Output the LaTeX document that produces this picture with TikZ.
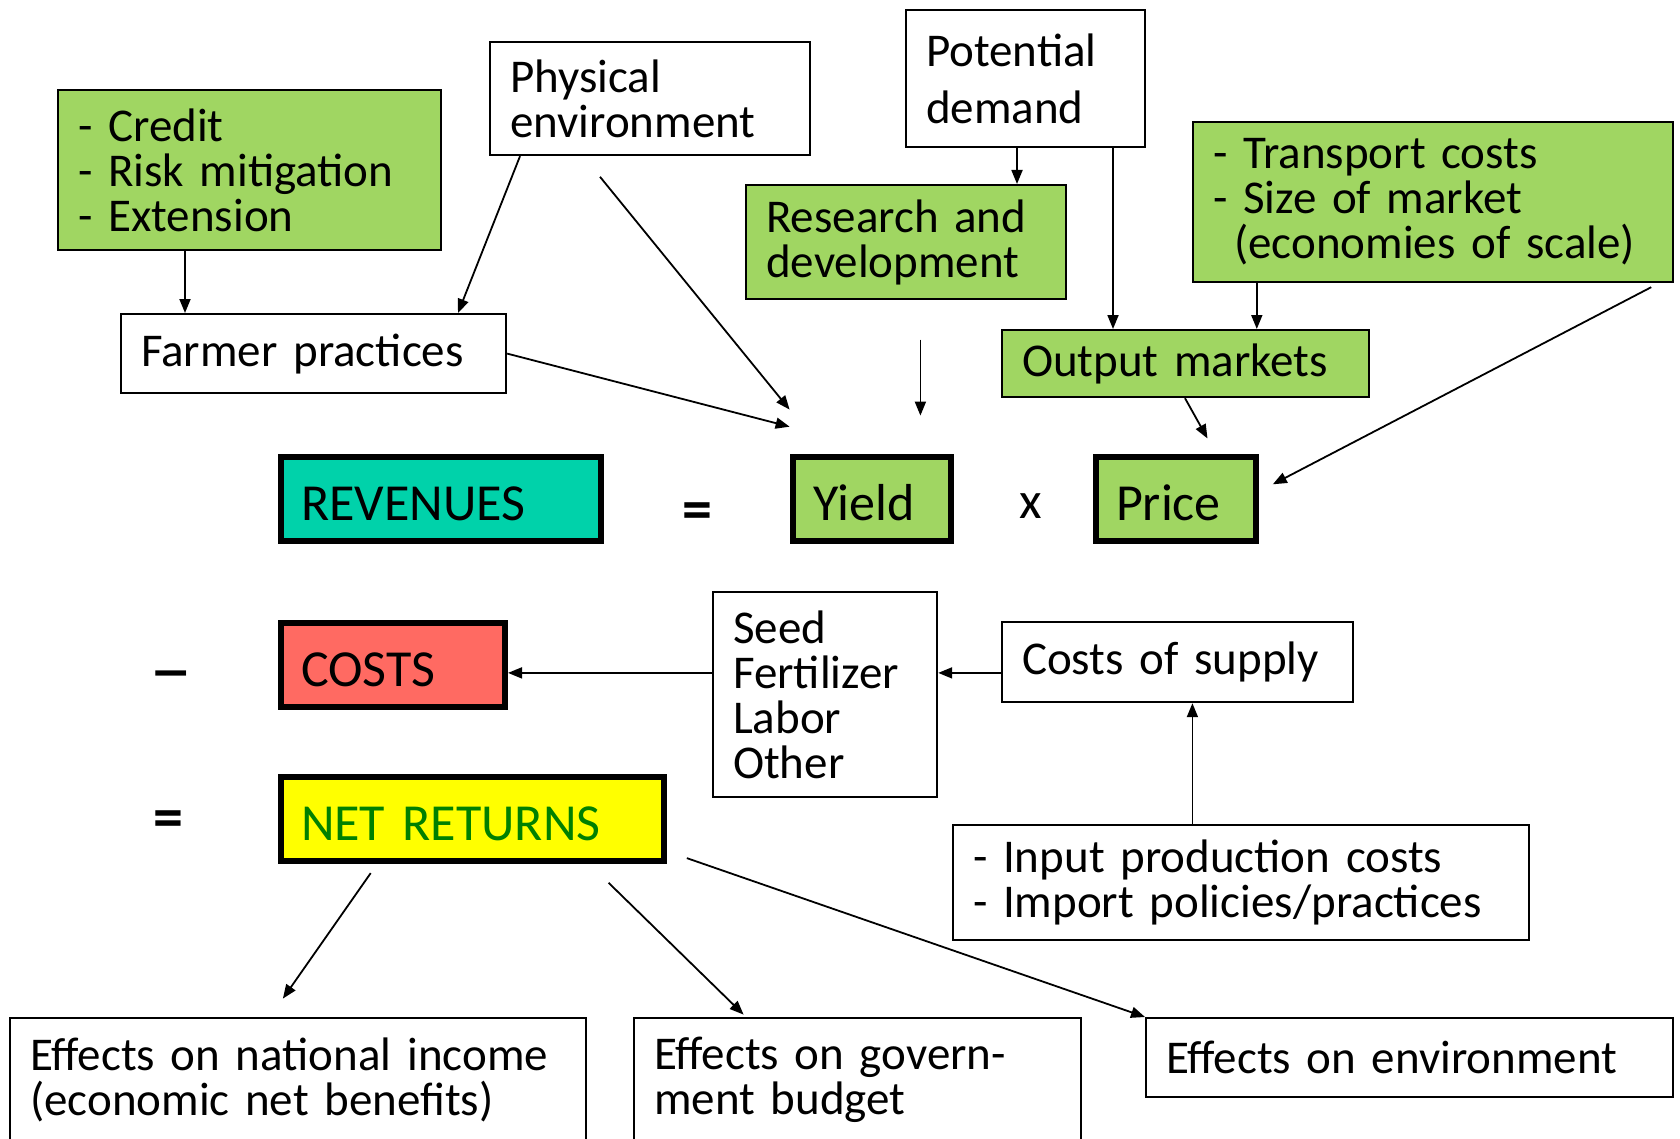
\documentclass[tikz,border=0pt]{standalone}
\usepackage{fontspec}
\setmainfont{Carlito}
\usepackage{tikz}
\usetikzlibrary{arrows.meta}
\usetikzlibrary{calc}
\definecolor{leaf}{HTML}{A0D662}
\definecolor{revcol}{HTML}{00D2AA}
\definecolor{costcol}{HTML}{FF6A62}
\definecolor{netcol}{HTML}{FFFF00}
\definecolor{nettext}{HTML}{008000}
\tikzset{box/.style={draw, line width=1.1pt, anchor=north west, align=left, inner xsep=10pt, inner ysep=0pt, font=\fontsize{23.5}{22.5}\selectfont},
         keybox/.style={box, line width=3pt, minimum height=42pt, text height=21pt, text depth=0pt, font=\fontsize{26}{30}\selectfont},
         arr/.style={-{Triangle[length=7pt, width=5.5pt]}, line width=0.9pt},
         sym/.style={inner sep=0pt, font=\fontsize{30}{32}\selectfont\bfseries}}

\begin{document}
\begin{tikzpicture}[x=0.5pt, y=-0.5pt]
  \clip (0,0) rectangle (1680,1139);
    \node[box, fill=leaf, text width=171.5pt, minimum height=80pt] (credit) at (57,89) {- Credit\\- Risk mitigation\\- Extension};
    \node[box, text width=140pt, minimum height=56.5pt] (phys) at (489,41) {Physical\\environment};
    \node[box, text width=99.5pt, minimum height=68.5pt, font=\fontsize{23.5}{28.5}\selectfont] (potdem) at (905,9) {Potential\\demand};
    \node[box, fill=leaf, text width=140pt, minimum height=57pt] (rnd) at (745,184) {Research and\\development};
    \node[box, fill=leaf, text width=220pt, minimum height=80pt] (transport) at (1192,121) {- Transport costs\\- Size of market\\\hspace*{0.45em}(economies of scale)};
    \node[box, text width=172.5pt, minimum height=39.5pt] (farmer) at (120,313) {Farmer practices};
    \node[box, fill=leaf, text width=163.5pt, minimum height=33.5pt] (outmkt) at (1001,329) {Output markets};
    \node[keybox, fill=revcol, text width=140pt] (revenues) at (278,454) {REVENUES};
    \node[keybox, fill=leaf, text width=59pt] (yield) at (790,454) {Yield};
    \node[keybox, fill=leaf, text width=60pt] (price) at (1093,454) {Price};
    \node[keybox, fill=costcol, text width=92pt] (costs) at (278,620) {COSTS};
    \node[keybox, fill=netcol, text width=171.5pt, text=nettext] (netret) at (278,774) {NET RETURNS};
    \node[box, text width=92pt, minimum height=102.5pt] (seed) at (712,591) {Seed\\Fertilizer\\Labor\\Other};
    \node[box, text width=155.5pt, minimum height=40pt] (supply) at (1001,621) {Costs of supply};
    \node[box, text width=268pt, minimum height=57.5pt] (input) at (952,824) {- Input production costs\\- Import policies/practices};
    \node[box, text width=268pt, minimum height=62pt] (natinc) at (9,1017) {Effects on national income\\(economic net benefits)};
    \node[box, text width=203.5pt, minimum height=62pt] (govt) at (633,1017) {Effects on govern-\\ment budget};
    \node[box, text width=243.5pt, minimum height=39.5pt] (env) at (1145,1017) {Effects on environment};
    \node[sym] (equals) at (697,516) {=};
    \node[sym, font=\fontsize{26}{30}\selectfont] (times) at (1031,506) {x};
    \node[sym, xscale=1.45] (minus) at (171,681) {--};
    \node[sym] (equals2) at (168,824) {=};
  \draw[arr] ([xshift=64pt]credit.south west) -- ([xshift=64pt]credit.south west |- farmer.north);
  \draw[arr] ([xshift=15.5pt]phys.south west) -- ([xshift=169pt]farmer.north west);
  \draw[arr] ([shift={(55.5pt,-10.3pt)}]phys.south west) -- ([shift={(-0.2pt,22.2pt)}]yield.north west);
  \draw[arr] (farmer.east) -- ([shift={(-0.2pt,13.65pt)}]yield.north west);
  \draw[arr] ([xshift=56pt]potdem.south west) -- ([xshift=56pt]potdem.south west |- rnd.north);
  \draw[arr] ([xshift=104pt]potdem.south west) -- ([xshift=104pt]potdem.south west |- outmkt.north);
  \draw[arr] ([xshift=32.4pt]transport.south west) -- ([xshift=32.4pt]transport.south west |- outmkt.north);
  \draw[arr] ([shift={(87.7pt,-19.7pt)}]rnd.south west) -- ++(0,76);
  \draw[arr] ([xshift=92pt]outmkt.south west) -- ([shift={(57.25pt,7.75pt)}]price.north west);
  \draw[arr] ([shift={(-11.5pt,-2pt)}]transport.south east) -- ([shift={(6.9pt,-15.15pt)}]price.north east);
  \draw[arr] ([yshift=10.85pt]seed.west) -- ([yshift=10.85pt]seed.west -| costs.east);
  \draw[arr] ([yshift=-5.4pt]supply.west) -- ([yshift=-5.4pt]supply.west -| seed.east);
  \draw[arr] ([xshift=120.2pt]input.north west) -- ([xshift=120.2pt]input.north west |- supply.south);
  \draw[arr] ([shift={(46.35pt,-4.55pt)}]netret.south west) -- ([shift={(136.95pt,9.2pt)}]natinc.north west);
  \draw[arr] ([shift={(165.3pt,-9.4pt)}]netret.south west) -- ([shift={(55.3pt,1.2pt)}]govt.north west);
  \draw[arr] ([shift={(9.9pt,2.95pt)}]netret.south east) -- (env.north west);
\end{tikzpicture}
\end{document}
